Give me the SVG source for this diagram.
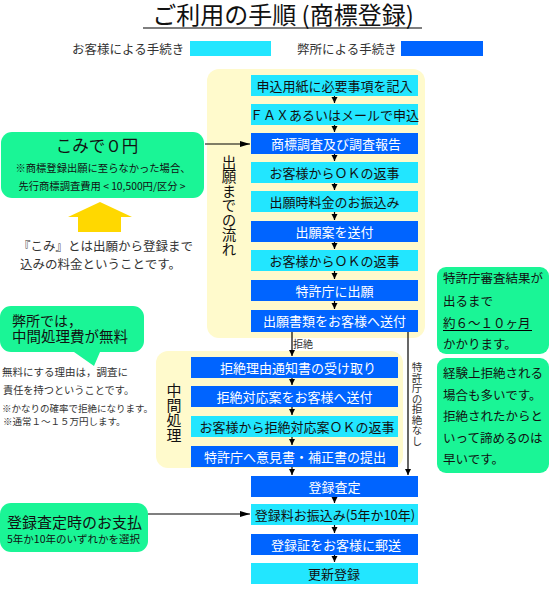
<svg xmlns="http://www.w3.org/2000/svg" width="550" height="600" viewBox="0 0 550 600">
<defs>
<style>
text{font-family:"Noto Sans CJK JP","Noto Sans",sans-serif;}
.panel{fill:#fffacc;}
.cy{fill:#22e6ff;}
.bl{fill:#0064ff;}
.gr{fill:#1af596;}
.tk{fill:#111;}
.tw{fill:#fff;}
.tg{fill:#333;}
.bt{font-size:13px;text-anchor:middle;}
.cn line{stroke:#000;stroke-width:1.2;}
.vt{writing-mode:vertical-rl;}
</style>
<marker id="ah" markerUnits="userSpaceOnUse" markerWidth="8" markerHeight="8" refX="6" refY="3" orient="auto">
<path d="M0,0 L6,3 L0,6 z" fill="#000"/>
</marker>
<marker id="ahL" markerUnits="userSpaceOnUse" markerWidth="12" markerHeight="8" refX="10" refY="3" orient="auto">
<path d="M0,0 L10,3 L0,6 z" fill="#000"/>
</marker>
</defs>
<rect width="550" height="600" fill="#fff"/>

<g id="title">
<text x="283" y="24" font-size="24" text-anchor="middle" class="tk">ご利用の手順 (商標登録)</text>
<line x1="143" y1="28" x2="422" y2="28" stroke="#000" stroke-width="1.2"/>
</g>

<g id="legend">
<text x="72" y="54" font-size="12.5" class="tg">お客様による手続き</text>
<rect x="190" y="41" width="81" height="15" class="cy"/>
<text x="297" y="54" font-size="12.5" class="tg">弊所による手続き</text>
<rect x="401" y="41" width="82" height="15" class="bl"/>
</g>

<g id="panel1">
<rect x="207" y="69" width="218" height="269" rx="12" class="panel"/>
<text x="229" y="155" font-size="14.5" class="tk vt">出願までの流れ</text>
</g>
<g id="panel2">
<rect x="156" y="351" width="247" height="117" rx="12" class="panel"/>
<text x="174" y="383" font-size="15" class="tk vt">中間処理</text>
</g>

<g id="connectors" class="cn">
<line x1="334.5" y1="96" x2="334.5" y2="103" marker-end="url(#ah)"/>
<line x1="334.5" y1="125" x2="334.5" y2="132" marker-end="url(#ah)"/>
<line x1="334.5" y1="154" x2="334.5" y2="161" marker-end="url(#ah)"/>
<line x1="334.5" y1="183" x2="334.5" y2="190" marker-end="url(#ah)"/>
<line x1="334.5" y1="212" x2="334.5" y2="220" marker-end="url(#ah)"/>
<line x1="334.5" y1="242" x2="334.5" y2="249" marker-end="url(#ah)"/>
<line x1="334.5" y1="271" x2="334.5" y2="279" marker-end="url(#ah)"/>
<line x1="334.5" y1="301" x2="334.5" y2="309" marker-end="url(#ah)"/>
<line x1="205" y1="144" x2="250" y2="144" marker-end="url(#ahL)"/>
<line x1="292" y1="332" x2="292" y2="356" marker-end="url(#ah)"/>
<line x1="408" y1="332" x2="408" y2="475" marker-end="url(#ah)"/>
<line x1="292" y1="378" x2="292" y2="385" marker-end="url(#ah)"/>
<line x1="292" y1="407" x2="292" y2="415" marker-end="url(#ah)"/>
<line x1="292" y1="437" x2="292" y2="445" marker-end="url(#ah)"/>
<line x1="292" y1="467" x2="292" y2="475" marker-end="url(#ah)"/>
<line x1="334.5" y1="497" x2="334.5" y2="503" marker-end="url(#ah)"/>
<line x1="334.5" y1="525" x2="334.5" y2="533" marker-end="url(#ah)"/>
<line x1="334.5" y1="555" x2="334.5" y2="562" marker-end="url(#ah)"/>
<line x1="148" y1="514" x2="250" y2="514" marker-end="url(#ahL)"/>
<text x="293" y="348" font-size="10" class="tg">拒絶</text>
<text x="417" y="362" font-size="10.5" class="tg vt">特許庁の拒絶なし</text>
</g>

<g id="s1"><rect x="251" y="75" width="167" height="21" class="cy"/><text x="334.5" y="90.5" class="bt tk" font-size="12.5">申込用紙に必要事項を記入</text></g>
<g id="s2"><rect x="251" y="104" width="167" height="21" class="cy"/><text x="334.5" y="119.5" class="bt tk" font-size="12.5">ＦＡＸあるいはメールで申込</text></g>
<g id="s3"><rect x="251" y="133" width="167" height="21" class="bl"/><text x="336" y="148.5" class="bt tw">商標調査及び調査報告</text></g>
<g id="s4"><rect x="251" y="162" width="167" height="21" class="cy"/><text x="334.5" y="177.5" class="bt tk" font-size="12.5">お客様からＯＫの返事</text></g>
<g id="s5"><rect x="251" y="191" width="167" height="21" class="cy"/><text x="334.5" y="206.5" class="bt tk">出願時料金のお振込み</text></g>
<g id="s6"><rect x="251" y="221" width="167" height="21" class="bl"/><text x="334.5" y="236.5" class="bt tw" font-size="13.5">出願案を送付</text></g>
<g id="s7"><rect x="251" y="250" width="167" height="21" class="cy"/><text x="334.5" y="265.5" class="bt tk" font-size="12.5">お客様からＯＫの返事</text></g>
<g id="s8"><rect x="251" y="280" width="167" height="21" class="bl"/><text x="334.5" y="295.5" class="bt tw" font-size="13.5">特許庁に出願</text></g>
<g id="s9"><rect x="251" y="310" width="167" height="22" class="bl"/><text x="334.5" y="326" class="bt tw" font-size="13.5">出願書類をお客様へ送付</text></g>

<g id="m1"><rect x="191" y="357" width="207" height="21" class="bl"/><text x="298" y="372.5" class="bt tw" font-size="13.5">拒絶理由通知書の受け取り</text></g>
<g id="m2"><rect x="191" y="386" width="207" height="21" class="bl"/><text x="294.5" y="401.5" class="bt tw" font-size="13.5">拒絶対応案をお客様へ送付</text></g>
<g id="m3"><rect x="191" y="416" width="207" height="21" class="cy"/><text x="297" y="431.5" class="bt tk">お客様から拒絶対応案ＯＫの返事</text></g>
<g id="m4"><rect x="191" y="446" width="207" height="21" class="bl"/><text x="295" y="461.5" class="bt tw">特許庁へ意見書・補正書の提出</text></g>

<g id="r1"><rect x="251" y="476" width="167" height="21" class="bl"/><text x="334.5" y="491.5" class="bt tw" font-size="13.5">登録査定</text></g>
<g id="r2"><rect x="251" y="504" width="167" height="21" class="cy"/><text x="335" y="519.5" class="bt tk" font-size="12.5">登録料お振込み(5年か10年)</text></g>
<g id="r3"><rect x="251" y="534" width="167" height="21" class="bl"/><text x="336" y="549.5" class="bt tw" font-size="13.5">登録証をお客様に郵送</text></g>
<g id="r4"><rect x="251" y="563" width="167" height="21" class="cy"/><text x="334" y="578.5" class="bt tk" font-size="13.5">更新登録</text></g>

<g id="komi">
<rect x="1" y="132" width="203" height="66" rx="11" class="gr"/>
<text x="97" y="152" font-size="16.5" text-anchor="middle" class="tk">こみで０円</text>
<text x="103" y="172" font-size="10.3" text-anchor="middle" class="tk">※商標登録出願に至らなかった場合、</text>
<text x="102" y="190" font-size="10.3" text-anchor="middle" class="tk">先行商標調査費用 &lt; 10,500円/区分 &gt;</text>
</g>

<g id="uparrow">
<polygon points="100,202 132,217 121,217 121,232 78,232 78,217 68,217" fill="#ffd800"/>
</g>

<g id="komi-note">
<text x="18" y="251" font-size="12.5" class="tg">『こみ』とは出願から登録まで</text>
<text x="20" y="269" font-size="12.5" class="tg">込みの料金ということです。</text>
</g>

<g id="free">
<path d="M11,306 H133 A11,11 0 0 1 144,317 V341 A11,11 0 0 1 133,352 H100 L94,366 L74,352 H11 A11,11 0 0 1 0,341 V317 A11,11 0 0 1 11,306 Z" class="gr"/>
<text x="12" y="326" font-size="14" class="tk">弊所では，</text>
<text x="12" y="342" font-size="14.5" class="tk">中間処理費が無料</text>
</g>

<g id="free-note">
<text x="2" y="376" font-size="10.5" class="tg">無料にする理由は，調査に</text>
<text x="3" y="394" font-size="10.2" class="tg">責任を持つということです。</text>
<text x="2" y="412" font-size="9.5" class="tg">※かなりの確率で拒絶になります。</text>
<text x="3" y="425" font-size="9.5" class="tg">※通常１～１５万円します。</text>
</g>

<g id="period">
<rect x="437" y="267" width="112" height="87" rx="9" class="gr"/>
<text x="443" y="283" font-size="12.5" class="tk">特許庁審査結果が</text>
<text x="443" y="306" font-size="12.5" class="tk">出るまで</text>
<text x="443" y="328" font-size="12.5" class="tk">約６～１０ヶ月</text>
<line x1="443" y1="330.5" x2="532" y2="330.5" stroke="#000" stroke-width="1"/>
<text x="443" y="349" font-size="12.5" class="tk">かかります。</text>
</g>

<g id="advice">
<rect x="437" y="358" width="112" height="115" rx="9" class="gr"/>
<text x="443" y="378" font-size="12.5" class="tk">経験上拒絶される</text>
<text x="443" y="399.5" font-size="12.5" class="tk">場合も多いです。</text>
<text x="443" y="421" font-size="12.5" class="tk">拒絶されたからと</text>
<text x="443" y="442.5" font-size="12.5" class="tk">いって諦めるのは</text>
<text x="443" y="464" font-size="12.5" class="tk">早いです。</text>
</g>

<g id="pay">
<rect x="0" y="503" width="148" height="49" rx="11" class="gr"/>
<text x="7" y="528" font-size="15" class="tk">登録査定時のお支払</text>
<text x="7" y="543" font-size="10.5" class="tk">5年か10年のいずれかを選択</text>
</g>
</svg>
